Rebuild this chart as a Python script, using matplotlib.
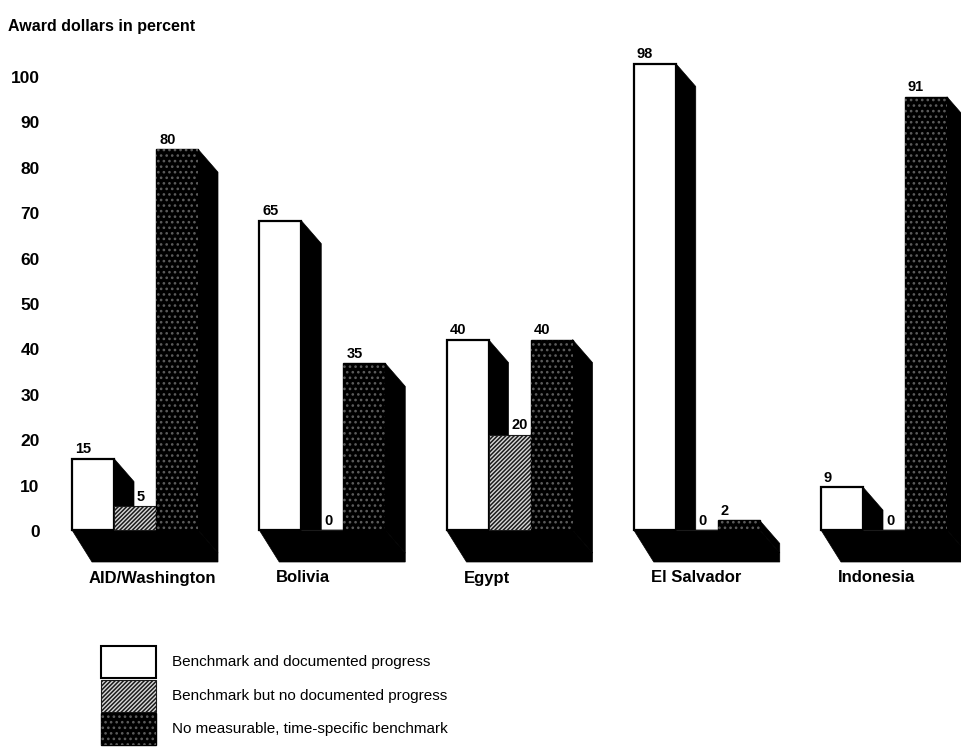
import numpy as np
import matplotlib.pyplot as plt
from matplotlib.patches import Polygon, Rectangle

plt.rcParams['font.family'] = ['Liberation Sans', 'DejaVu Sans']
plt.rcParams['hatch.linewidth'] = 1.1

categories = ['AID/Washington', 'Bolivia', 'Egypt', 'El Salvador', 'Indonesia']
series = ['Benchmark and documented progress',
          'Benchmark but no documented progress',
          'No measurable, time-specific benchmark']
documented = [15, 65, 40, 98, 9]
no_progress = [5, 0, 20, 0, 0]
no_benchmark = [80, 35, 40, 2, 91]
yticks = list(range(0, 101, 10))

values = [documented, no_progress, no_benchmark]

W, H = 962, 750
fig = plt.figure(figsize=(W / 100, H / 100), dpi=100)

# main drawing area covers the whole figure; 1 x-unit = one group
xpx = 187.25          # pixels per group
ypx = 4.76            # pixels per percent
base_px = 530         # pixel row of the bar bases
ax = fig.add_axes([0, 0, 1, 1])
ax.set_xlim(-135 / xpx, (W - 135) / xpx)
ax.set_ylim(-(H - base_px) / ypx, base_px / ypx)
ax.axis('off')

w = 42 / xpx          # bar width
dx = 20 / xpx         # depth offset to the right
dy = 23 / ypx         # depth offset downward
floor = 32 / ypx      # floor slab depth

x = np.arange(len(categories))
lefts = [x - 1.5 * w + k * w for k in range(3)]

# black floor slab under each group
for g in range(len(categories)):
    x0 = lefts[0][g]
    x3 = lefts[2][g] + w
    ax.add_patch(Polygon([(x0, 0), (x0 + dx, -floor), (x3 + dx, -floor),
                          (x3 + dx, -dy), (x3, 0)],
                         closed=True, fc='black', ec='black', lw=0.5, zorder=0))

# side faces (drawn under the next bar's front)
for k in range(3):
    for g in range(len(categories)):
        h = values[k][g]
        if h == 0:
            continue
        r = lefts[k][g] + w
        ax.add_patch(Polygon([(r, h), (r + dx, h - dy), (r + dx, -dy), (r, 0)],
                             closed=True, fc='black', ec='black', lw=0.5,
                             zorder=2 * k + 1))

# front faces
ax.bar(lefts[0], documented, width=w, align='edge', color='white',
       edgecolor='black', linewidth=1.6, zorder=2)
ax.bar(lefts[1], no_progress, width=w, align='edge', color='#d8d8d8',
       edgecolor='#1a1a1a', hatch='////////', linewidth=0.8, zorder=4)
ax.bar(lefts[2], no_benchmark, width=w, align='edge', color='black',
       edgecolor='black', linewidth=1, zorder=6)
ax.bar(lefts[2], no_benchmark, width=w, align='edge', color='none',
       edgecolor='#5c5c5c', hatch='...', linewidth=0, zorder=6.5)

# value labels above each front face
for k in range(3):
    for g in range(len(categories)):
        h = values[k][g]
        xl = lefts[k][g]
        if k > 0 and values[k - 1][g] >= h:
            xl += dx
        ax.text(xl + 3 / xpx, h + 0.5, str(h), ha='left', va='bottom',
                fontsize=10.5, fontweight='bold', zorder=10)

# group names under the floor
for g, name in enumerate(categories):
    ax.text(lefts[0][g] + dx - 3 / xpx, -(578 - base_px) / ypx, name,
            ha='left', va='center', fontsize=12, fontweight='bold')

# value axis labels
ax2 = fig.add_axes([41 / W, 0, 0.001, 1])
ax2.set_ylim(-(H - 531) / 4.54, 531 / 4.54)
ax2.set_yticks(yticks)
ax2.set_yticklabels([str(t) for t in yticks], fontsize=12.5, fontweight='bold')
ax2.tick_params(axis='y', length=0, pad=1)
ax2.set_xticks([])
for s in ax2.spines.values():
    s.set_visible(False)
ax2.patch.set_visible(False)

fig.text(8 / W, 1 - 27 / H, 'Award dollars in percent', ha='left', va='center',
         fontsize=11.5, fontweight='bold')

# legend boxes
styles = [dict(fc='white', ec='black', lw=1.5),
          dict(fc='#d8d8d8', ec='#1a1a1a', lw=0.8, hatch='////////'),
          dict(fc='black', ec='black', lw=1)]
rows = [(646, 678), (680, 712), (713, 745)]
for (top, bot), st, label in zip(rows, styles, series):
    fig.add_artist(Rectangle((101 / W, 1 - bot / H), 55 / W, (bot - top) / H,
                             transform=fig.transFigure, **st))
    if st['fc'] == 'black':
        fig.add_artist(Rectangle((101 / W, 1 - bot / H), 55 / W, (bot - top) / H,
                                 transform=fig.transFigure, fc='none',
                                 ec='#5c5c5c', lw=0, hatch='...'))
    fig.text(172 / W, 1 - (top + bot) / 2 / H, label, ha='left', va='center',
             fontsize=11)

fig.savefig('out.png', dpi=100)
